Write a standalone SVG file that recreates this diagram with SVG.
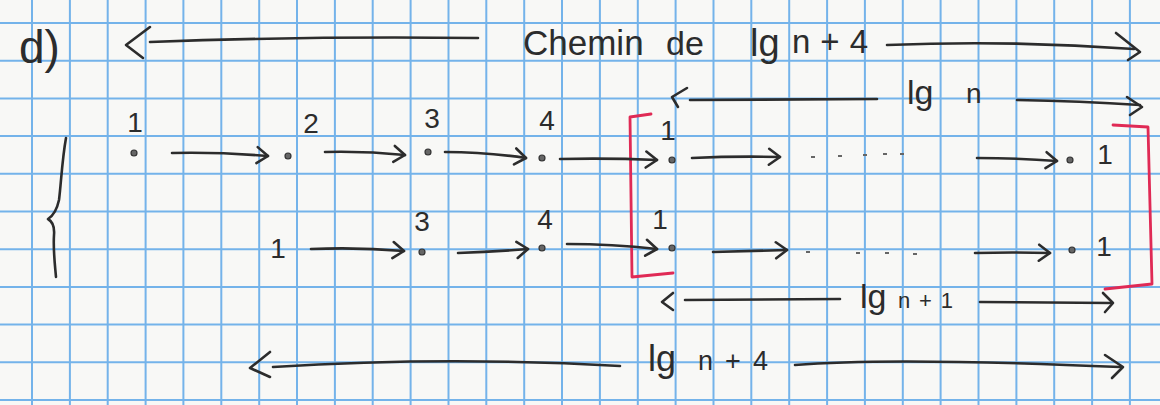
<svg xmlns="http://www.w3.org/2000/svg" width="1160" height="405" viewBox="0 0 1160 405">
  <style>
    .paper { fill: #f8f8f6; }
    .grid { stroke: #74b3ea; stroke-width: 2; fill: none; }
    .ink { stroke: #2c2c2c; stroke-width: 2.6; fill: none; stroke-linecap: round; stroke-linejoin: round; }
    .head { stroke: #2c2c2c; stroke-width: 2.6; fill: none; stroke-linecap: round; stroke-linejoin: round; }
    .red { stroke: #e02a55; stroke-width: 2.8; fill: none; stroke-linecap: round; stroke-linejoin: round; }
    .dot { fill: #666; stroke: #333; stroke-width: 1.2; }
    .speck { fill: #666; }
    text { font-family: "Liberation Sans", "DejaVu Sans", sans-serif; fill: #2c2c2c; }
    .lbl { font-size: 28px; text-anchor: middle; }
  </style>
  <defs>
    <marker id="arrow" markerUnits="userSpaceOnUse" markerWidth="20" markerHeight="24" viewBox="-14 -12 16 24" refX="0" refY="0" orient="auto">
      <path d="M-11,-8 L0,0 L-11,8" fill="none" stroke="#2c2c2c" stroke-width="2.6" stroke-linecap="round" stroke-linejoin="round"/>
    </marker>
  </defs>

  <!-- squared paper -->
  <rect class="paper" x="0" y="0" width="1160" height="405"/>
  <path class="grid" d="M32,0V405 M69.9,0V405 M107.7,0V405 M145.6,0V405 M183.4,0V405 M221.3,0V405 M259.2,0V405 M297,0V405 M334.9,0V405 M372.7,0V405 M410.6,0V405 M448.5,0V405 M486.3,0V405 M524.2,0V405 M562,0V405 M599.9,0V405 M637.8,0V405 M675.6,0V405 M713.5,0V405 M751.3,0V405 M789.2,0V405 M827.1,0V405 M864.9,0V405 M902.8,0V405 M940.6,0V405 M978.5,0V405 M1016.4,0V405 M1054.2,0V405 M1092.1,0V405 M1129.9,0V405 M0,23H1160 M0,60.7H1160 M0,98.4H1160 M0,136.1H1160 M0,173.8H1160 M0,211.5H1160 M0,249.2H1160 M0,286.9H1160 M0,324.6H1160 M0,362.3H1160 M0,400H1160"/>

  <!-- heading -->
  <g id="title">
    <text x="19" y="63" font-size="46">d)</text>
    <text x="523" y="55" font-size="35">Chemin</text>
    <text x="666" y="55" font-size="34">de</text>
    <text x="750" y="56" font-size="38">lg</text>
    <text x="792" y="53" font-size="33" textLength="76" lengthAdjust="spacing">n+4</text>
  </g>

  <!-- brace grouping the two paths -->
  <g id="brace">
    <path class="ink" d="M66,138 C62,160 61,185 59,200 Q56,214 48,219 Q55,223 54,235 C53,250 55,265 56,277"/>
  </g>

  <!-- first path: 1 2 3 4 1 ... 1 -->
  <g id="p1-1"><circle class="dot" cx="134" cy="153" r="3"/><text class="lbl" x="135" y="132">1</text></g>
  <g id="p1-2"><circle class="dot" cx="288" cy="156" r="3"/><text class="lbl" x="311" y="133">2</text></g>
  <g id="p1-3"><circle class="dot" cx="428" cy="152" r="3"/><text class="lbl" x="432" y="128" font-size="30">3</text></g>
  <g id="p1-4"><circle class="dot" cx="542" cy="158" r="3"/><text class="lbl" x="547" y="130" font-size="30">4</text></g>
  <g id="p1-5"><circle class="dot" cx="672" cy="160" r="3"/><text class="lbl" x="668" y="140">1</text></g>
  <g id="p1-6"><circle class="dot" cx="1070" cy="160" r="3"/><text class="lbl" x="1105" y="164" font-size="24">1</text></g>

  <!-- second path: 1 3 4 1 ... 1 -->
  <g id="p2-1"><text class="lbl" x="278" y="258" font-size="22">1</text></g>
  <g id="p2-3"><circle class="dot" cx="422" cy="252" r="3"/><text class="lbl" x="422" y="231">3</text></g>
  <g id="p2-4"><circle class="dot" cx="542" cy="248" r="3"/><text class="lbl" x="545" y="229">4</text></g>
  <g id="p2-5"><circle class="dot" cx="672" cy="248" r="3"/><text class="lbl" x="660" y="229">1</text></g>
  <g id="p2-6"><circle class="dot" cx="1072" cy="250" r="3"/><text class="lbl" x="1104" y="256" font-size="22">1</text></g>

  <!-- omitted vertices -->
  <g id="ellipsis">
    <rect class="speck" x="811" y="156" width="4" height="2"/>
    <rect class="speck" x="838" y="155" width="4" height="2"/>
    <rect class="speck" x="863" y="154" width="4" height="2"/>
    <rect class="speck" x="883" y="153" width="4" height="2"/>
    <rect class="speck" x="900" y="153" width="4" height="2"/>
    <rect class="speck" x="806" y="251" width="4" height="2"/>
    <rect class="speck" x="856" y="252" width="4" height="2"/>
    <rect class="speck" x="885" y="252" width="4" height="2"/>
    <rect class="speck" x="913" y="253" width="4" height="2"/>
  </g>

  <!-- red brackets around the common part -->
  <g id="brackets">
    <path class="red" d="M651,114 L630,117 L632,277 L673,273"/>
    <path class="red" d="M1113,125 L1148,127 L1152,284 L1105,289"/>
  </g>

  <!-- length labels -->
  <g id="len-n">
    <text x="907" y="104" font-size="34">lg</text>
    <text x="966" y="103" font-size="28">n</text>
  </g>
  <g id="len-n1">
    <text x="860" y="308" font-size="34">lg</text>
    <text x="898" y="308" font-size="22" textLength="55" lengthAdjust="spacing">n+1</text>
  </g>
  <g id="len-n4">
    <text x="648" y="371" font-size="36">lg</text>
    <text x="698" y="370" font-size="27" textLength="70" lengthAdjust="spacing">n+4</text>
  </g>

  <!-- connectors -->
  <g id="connectors">
    <!-- edges of the first path -->
    <path class="ink" marker-end="url(#arrow)" d="M172,153 Q220,152 268,156"/>
    <path class="ink" marker-end="url(#arrow)" d="M325,152 Q365,151 405,155"/>
    <path class="ink" marker-end="url(#arrow)" d="M445,152 Q485,152 526,158"/>
    <path class="ink" marker-end="url(#arrow)" d="M560,159 Q610,158 657,160"/>
    <path class="ink" marker-end="url(#arrow)" d="M692,158 Q736,156 780,157"/>
    <path class="ink" marker-end="url(#arrow)" d="M977,158 Q1017,158 1057,161"/>
    <!-- edges of the second path -->
    <path class="ink" marker-end="url(#arrow)" d="M311,249 Q358,247 404,251"/>
    <path class="ink" marker-end="url(#arrow)" d="M458,253 Q493,252 528,249"/>
    <path class="ink" marker-end="url(#arrow)" d="M567,244 Q612,244 657,249"/>
    <path class="ink" marker-end="url(#arrow)" d="M713,252 Q750,251 787,250"/>
    <path class="ink" marker-end="url(#arrow)" d="M975,253 Q1012,252 1050,253"/>

    <!-- length of the whole path (top) -->
    <path class="head" d="M150,27 L126,45 L143,58"/>
    <path class="ink" d="M150,42 Q310,36 478,38"/>
    <path class="ink" d="M887,45 Q1010,40 1134,49"/>
    <path class="head" d="M1116,33 L1140,52 L1128,60"/>

    <!-- lg n -->
    <path class="head" d="M687,88 L672,97 L678,107"/>
    <path class="ink" d="M690,100 L877,99"/>
    <path class="ink" d="M1017,100 Q1080,101 1140,105"/>
    <path class="head" d="M1127,97 L1142,107 L1130,115"/>

    <!-- lg n+1 -->
    <path class="head" d="M673,293 L662,302 L673,310"/>
    <path class="ink" d="M685,300 L840,299"/>
    <path class="ink" d="M980,302 L1111,303"/>
    <path class="head" d="M1103,293 L1113,303 L1105,312"/>

    <!-- lg n+4 -->
    <path class="head" d="M270,352 L250,368 L270,377"/>
    <path class="ink" d="M273,367 Q447,356 620,366"/>
    <path class="ink" d="M795,365 Q890,357 1120,367"/>
    <path class="head" d="M1105,355 L1123,367 L1112,378"/>
  </g>
</svg>
